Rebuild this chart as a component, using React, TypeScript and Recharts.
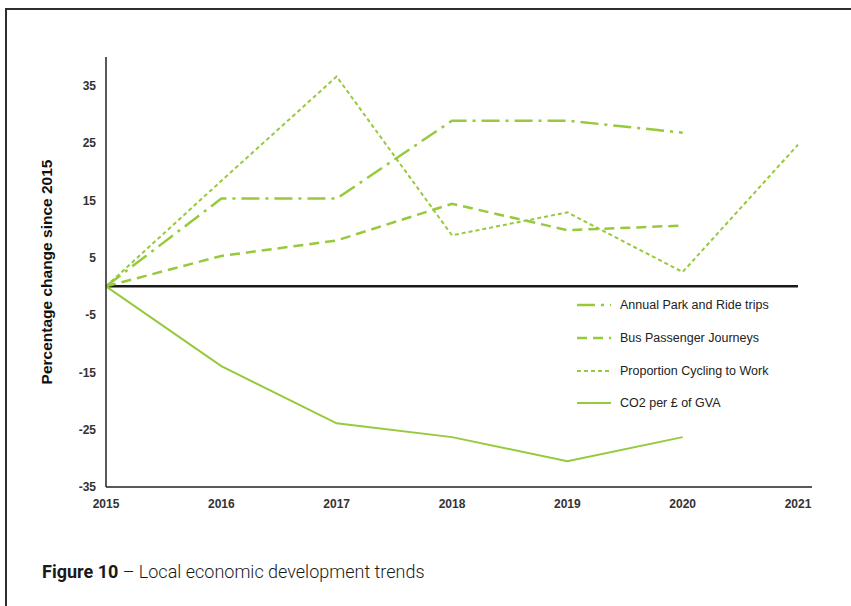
import React from 'react'
import { LineChart, Line, XAxis, YAxis, ReferenceLine, Legend } from 'recharts'

const years = [2015, 2016, 2017, 2018, 2019, 2020, 2021]
const parkAndRide = [0, 15.3, 15.3, 28.9, 28.9, 26.8, null]
const busJourneys = [0, 5.3, 8.0, 14.4, 9.8, 10.6, null]
const cyclingToWork = [0, 18.4, 36.6, 8.9, 12.9, 2.5, 24.7]
const co2PerGva = [0, -13.9, -23.9, -26.3, -30.5, -26.3, null]
const yTicks = [-35, -25, -15, -5, 5, 15, 25, 35]

const GREEN = '#97c93d'
const FONT = '"Liberation Sans", Arial, sans-serif'

const series = [
  { key: 'park', name: 'Annual Park and Ride trips', dash: '18 6 3 6', width: 2.5 },
  { key: 'bus', name: 'Bus Passenger Journeys', dash: '10 6', width: 2.5 },
  { key: 'cycle', name: 'Proportion Cycling to Work', dash: '4 3', width: 2 },
  { key: 'co2', name: 'CO2 per £ of GVA', dash: undefined, width: 2 },
]

const data = years.map((year, i) => ({
  year,
  park: parkAndRide[i],
  bus: busJourneys[i],
  cycle: cyclingToWork[i],
  co2: co2PerGva[i],
}))

function LegendBox() {
  return (
    <div style={{ fontFamily: FONT, fontSize: 12.5, color: '#222' }}>
      {series.map(s => (
        <div key={s.key} style={{ display: 'flex', alignItems: 'center', height: 32.7 }}>
          <svg width={36} height={10} style={{ marginRight: 7 }}>
            <line x1={0} y1={5} x2={34} y2={5} stroke={GREEN} strokeWidth={s.width} strokeDasharray={s.dash} />
          </svg>
          <span>{s.name}</span>
        </div>
      ))}
    </div>
  )
}

export default function App() {
  return (
    <div style={{ position: 'absolute', left: 0, top: 0, width: 851, height: 606, background: '#fff', overflow: 'hidden' }}>
      <div
        style={{
          position: 'absolute',
          left: 5,
          top: 8,
          width: 860,
          height: 620,
          borderTop: '2px solid #2e2e2e',
          borderLeft: '2px solid #2e2e2e',
        }}
      />
      <div style={{ position: 'absolute', left: 0, top: 0 }}>
        <LineChart width={851} height={606} data={data} margin={{ top: 57, right: 39, bottom: 89, left: 0 }}>
          <XAxis
            dataKey="year"
            type="number"
            domain={[2015, 2021]}
            ticks={years}
            interval={0}
            padding={{ left: 0, right: 14 }}
            height={30}
            tickLine={false}
            tickMargin={6}
            axisLine={{ stroke: '#222', strokeWidth: 1.5 }}
            tick={{ fill: '#333', fontSize: 12, fontFamily: FONT, fontWeight: 'bold' }}
          />
          <YAxis
            type="number"
            domain={[-35, 40]}
            ticks={yTicks}
            interval={0}
            width={106}
            tickLine={false}
            tickMargin={4}
            axisLine={{ stroke: '#222', strokeWidth: 1.5 }}
            tick={{ fill: '#333', fontSize: 12, fontFamily: FONT, fontWeight: 'bold' }}
            label={{
              value: 'Percentage change since 2015',
              angle: -90,
              position: 'center',
              dx: -7,
              style: { fill: '#111', fontSize: 15.5, fontWeight: 'bold', fontFamily: FONT, textAnchor: 'middle' },
            }}
          />
          <ReferenceLine
            segment={[{ x: 2015, y: 0 }, { x: 2021, y: 0 }]}
            stroke="#1a1a1a"
            strokeWidth={2.5}
          />
          {series.map(s => (
            <Line
              key={s.key}
              dataKey={s.key}
              name={s.name}
              type="linear"
              stroke={GREEN}
              strokeWidth={s.width}
              strokeDasharray={s.dash}
              dot={false}
              activeDot={false}
              isAnimationActive={false}
            />
          ))}
          <Legend
            layout="vertical"
            align="center"
            verticalAlign="middle"
            content={() => <LegendBox />}
            wrapperStyle={{ left: 577, top: 289, width: 240, height: 135 }}
          />
        </LineChart>
      </div>
      <div
        style={{
          position: 'absolute',
          left: 42,
          top: 561,
          fontFamily: 'Roboto, sans-serif',
          fontSize: 18,
          color: '#1a1a1a',
          whiteSpace: 'nowrap',
        }}
      >
        <span style={{ fontWeight: 700 }}>Figure 10</span>
        <span style={{ fontWeight: 300 }}> – Local economic development trends</span>
      </div>
    </div>
  )
}
